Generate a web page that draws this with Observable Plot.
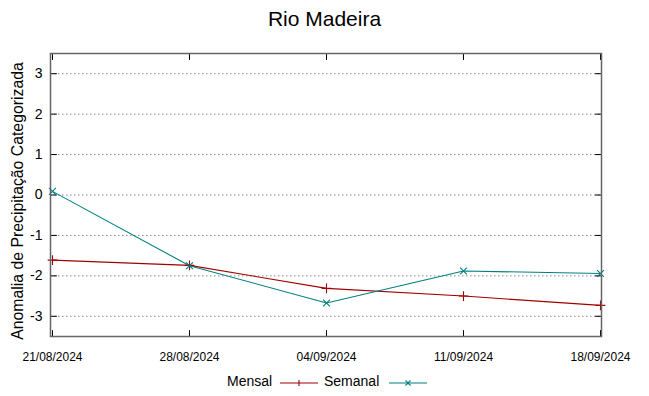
<!DOCTYPE html>
<html><head><meta charset="utf-8">
<script src="https://cdn.jsdelivr.net/npm/d3@7"></script>
<script src="https://cdn.jsdelivr.net/npm/@observablehq/plot@0.6"></script>
<style>
body{margin:0;background:#fff;font-family:"Liberation Sans",Arial,sans-serif;}
#wrap{width:649px;height:396px;position:relative;}
#title{position:absolute;top:0;left:0;width:649px;height:40px;text-align:center;font-size:21px;line-height:38px;color:#000;}
#chart{position:absolute;top:40px;left:0;}
#legend{position:absolute;top:370px;left:0;width:649px;height:24px;font-size:14px;color:#000;}
#legend span{position:absolute;top:3px;}
#legend svg{position:absolute;top:3px;}
</style></head>
<body>
<div id="wrap">
<div id="title">Rio Madeira</div>
<div id="chart"></div>
<div id="legend">
<span style="left:227px">Mensal</span>
<svg style="left:279px" width="40" height="18"><line x1="1" x2="39" y1="10" y2="10" stroke="#a00000" stroke-width="1.1"/><line x1="20" x2="20" y1="7" y2="13" stroke="#a00000" stroke-width="1.1"/></svg>
<span style="left:324px">Semanal</span>
<svg style="left:388px" width="40" height="18"><line x1="1" x2="39" y1="10" y2="10" stroke="#008080" stroke-width="1.1"/><line x1="17.5" x2="22.5" y1="7.5" y2="12.5" stroke="#008080" stroke-width="1.1"/><line x1="17.5" x2="22.5" y1="12.5" y2="7.5" stroke="#008080" stroke-width="1.1"/></svg>
</div>
</div>
<script>
const dates = ["21/08/2024","28/08/2024","04/09/2024","11/09/2024","18/09/2024"];
const mensal = [-1.61, -1.74, -2.31, -2.50, -2.73];
const semanal = [0.09, -1.75, -2.67, -1.88, -1.94];
const yTicks = [-3, -2, -1, 0, 1, 2, 3];
const yLabel = "Anomalia de Precipitação Categorizada";

const dm = dates.map((d, i) => ({d, v: mensal[i]}));
const ds = dates.map((d, i) => ({d, v: semanal[i]}));
const red = "#a00000", teal = "#008080";
const stick = {draw(context, l) { context.moveTo(0, 0); context.lineTo(0, -l); }};
const tickStyle = {length: 6, anchor: "start", shape: stick, stroke: "#000", strokeWidth: 1};

const plot = Plot.plot({
  width: 649, height: 330,
  marginLeft: 50, marginRight: 48, marginTop: 13, marginBottom: 34,
  style: {fontFamily: "Liberation Sans, Arial, sans-serif", background: "#fff", color: "#000", overflow: "visible"},
  x: {type: "point", domain: dates, padding: 0},
  y: {domain: [-3.5, 3.5]},
  marks: [
    Plot.gridY(yTicks, {stroke: "#888", strokeOpacity: 1, strokeDasharray: "1.5,2.5", strokeWidth: 1}),
    Plot.axisY(yTicks, {anchor: "left", tickSize: 0, tickPadding: 8, fontSize: 14, label: null, tickFormat: d => String(d)}),
    Plot.axisX(dates, {anchor: "bottom", tickSize: 0, tickPadding: 16, fontSize: 12, label: null}),
    Plot.vector(yTicks, {y: d => d, frameAnchor: "left", rotate: 90, ...tickStyle}),
    Plot.vector(yTicks, {y: d => d, frameAnchor: "right", rotate: -90, ...tickStyle}),
    Plot.vector(dates, {x: d => d, frameAnchor: "bottom", rotate: 0, ...tickStyle}),
    Plot.vector(dates, {x: d => d, frameAnchor: "top", rotate: 180, ...tickStyle}),
    Plot.text([yLabel], {frameAnchor: "left", dx: -33, dy: 6, rotate: -90, textAnchor: "middle", fontSize: 15.8, text: d => d}),
    Plot.line(dm, {x: "d", y: "v", stroke: red, strokeWidth: 1.1}),
    Plot.line(ds, {x: "d", y: "v", stroke: teal, strokeWidth: 1.1}),
    Plot.dot(dm, {x: "d", y: "v", symbol: "plus", stroke: red, r: 3.2, strokeWidth: 1.1}),
    Plot.dot(ds, {x: "d", y: "v", symbol: "times", stroke: teal, r: 3.2, strokeWidth: 1.1}),
    Plot.frame({stroke: "#666", strokeWidth: 1.5})
  ]
});
document.getElementById("chart").appendChild(plot);
</script>
</body></html>
